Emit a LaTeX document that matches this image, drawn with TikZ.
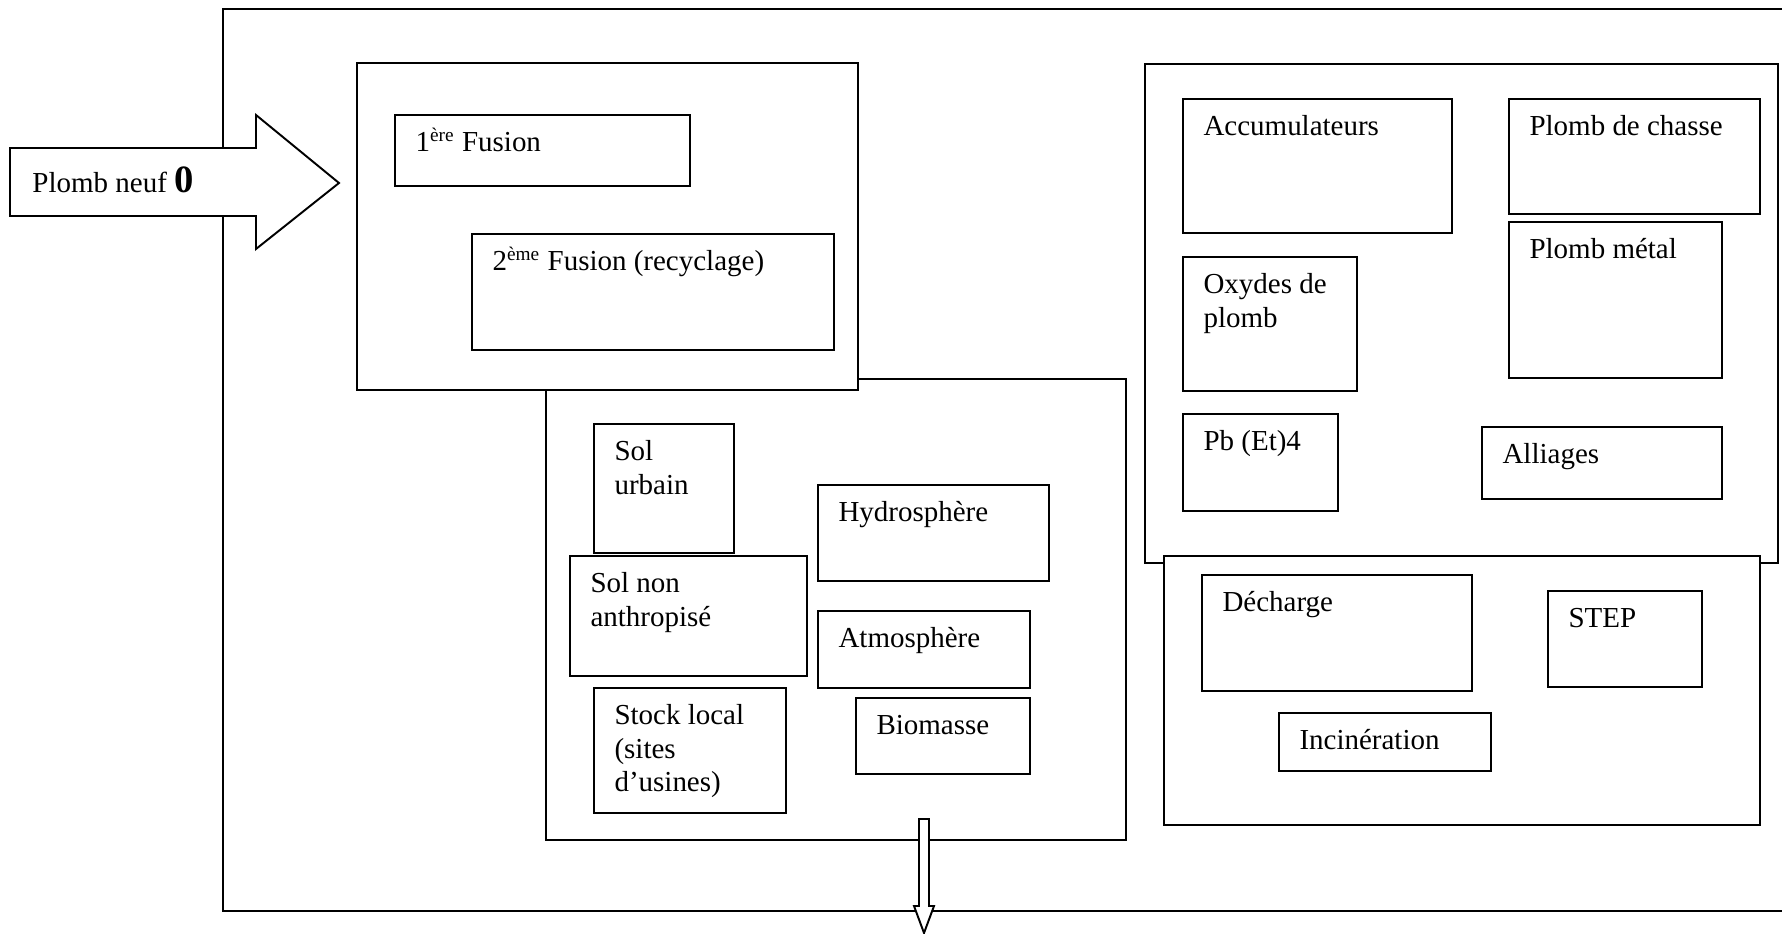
\documentclass[tikz,border=0pt]{standalone}
\usepackage{fontspec}
\setmainfont{Liberation Serif}
\usetikzlibrary{fit,calc}
\tikzset{
  box/.style={draw, line width=0.8pt, fill=white, inner sep=0pt},
  lbl/.style={anchor=base west, align=flush left, text width=8cm, inner sep=0pt,
    font=\fontsize{12}{13.9}\selectfont},
}
\begin{document}
\begin{tikzpicture}[x=0.414pt, y=-0.414pt]
    \useasboundingbox (0,0) rectangle (1782,934);
    \draw[line width=0.7pt] (1782,9) -- (223,9) -- (223,911) -- (1782,911);

    \node[box, fit={(546,379) (1126,840)}] (environ) {};
    \node[box, fit={(357,63) (858,390)}] (fusion) {};
    \node[box, fit={(395,115) (690,186)}] (fusionA) {};
    \node[lbl] at ($(fusionA.north west)+(21,37.8)$) {1\textsuperscript{ère} Fusion};
    \node[box, fit={(472,234) (834,350)}] (fusionB) {};
    \node[lbl] at ($(fusionB.north west)+(21,37.8)$) {2\textsuperscript{ème} Fusion (recyclage)};

    \node[box, fit={(594,424) (734,553)}] (solurbain) {};
    \node[lbl] at ($(solurbain.north west)+(21,37.8)$) {Sol\\urbain};
    \node[box, fit={(570,556) (807,676)}] (solnon) {};
    \node[lbl] at ($(solnon.north west)+(21,37.8)$) {Sol non\\anthropisé};
    \node[box, fit={(594,688) (786,813)}] (stock) {};
    \node[lbl] at ($(stock.north west)+(21,37.8)$) {Stock local\\(sites\\d’usines)};
    \node[box, fit={(818,485) (1049,581)}] (hydro) {};
    \node[lbl] at ($(hydro.north west)+(21,37.8)$) {Hydrosphère};
    \node[box, fit={(818,611) (1030,688)}] (atmo) {};
    \node[lbl] at ($(atmo.north west)+(21,37.8)$) {Atmosphère};
    \node[box, fit={(856,698) (1030,774)}] (biomasse) {};
    \node[lbl] at ($(biomasse.north west)+(21,37.8)$) {Biomasse};

    \node[box, fit={(1145,64) (1778,563)}] (produits) {};
    \node[box, fit={(1183,99) (1452,233)}] (accu) {};
    \node[lbl] at ($(accu.north west)+(21,37.8)$) {Accumulateurs};
    \node[box, fit={(1509,99) (1760,214)}] (chasse) {};
    \node[lbl] at ($(chasse.north west)+(21,37.8)$) {Plomb de chasse};
    \node[box, fit={(1509,222) (1722,378)}] (metal) {};
    \node[lbl] at ($(metal.north west)+(21,37.8)$) {Plomb métal};
    \node[box, fit={(1183,257) (1357,391)}] (oxydes) {};
    \node[lbl] at ($(oxydes.north west)+(21,37.8)$) {Oxydes de\\plomb};
    \node[box, fit={(1183,414) (1338,511)}] (pbet) {};
    \node[lbl] at ($(pbet.north west)+(21,37.8)$) {Pb (Et)4};
    \node[box, fit={(1482,427) (1722,499)}] (alliages) {};
    \node[lbl] at ($(alliages.north west)+(21,37.8)$) {Alliages};

    \node[box, fit={(1164,556) (1760,825)}] (dechets) {};
    \node[box, fit={(1202,575) (1472,691)}] (decharge) {};
    \node[lbl] at ($(decharge.north west)+(21,37.8)$) {Décharge};
    \node[box, fit={(1548,591) (1702,687)}] (station) {};
    \node[lbl] at ($(station.north west)+(21,37.8)$) {STEP};
    \node[box, fit={(1279,713) (1491,771)}] (incin) {};
    \node[lbl] at ($(incin.north west)+(21,37.8)$) {Incinération};

    \draw[line width=0.8pt, fill=white] (10,148) -- (256,148) -- (256,115) -- (339,183)
      -- (256,249) -- (256,216) -- (10,216) -- cycle;
    \node[lbl] (neuf) at (32,193) {Plomb neuf \textbf{\fontsize{16}{18}\selectfont 0}};
    \draw[line width=0.8pt, fill=white] (919,819) -- (929,819) -- (929,906) -- (934,906)
      -- (924,933) -- (914,906) -- (919,906) -- cycle;
  \end{tikzpicture}
\end{document}
